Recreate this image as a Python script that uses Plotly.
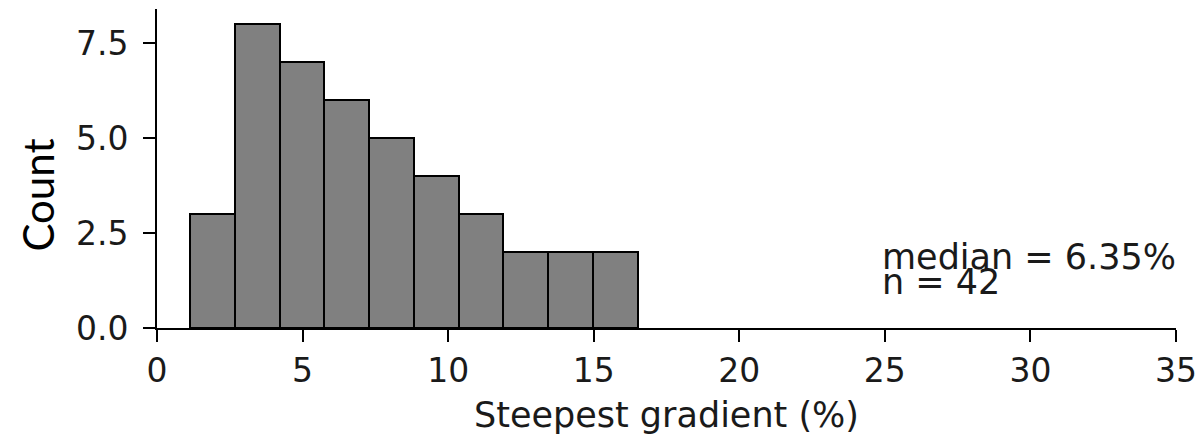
import plotly.graph_objects as go

# Histogram data
bin_edges = [1.13, 2.67, 4.21, 5.75, 7.29, 8.83, 10.36, 11.90, 13.44, 14.98, 16.52]
counts = [3, 8, 7, 6, 5, 4, 3, 2, 2, 2]
x_ticks = [0, 5, 10, 15, 20, 25, 30, 35]
y_ticks = [0, 2.5, 5.0, 7.5]
median_text = "median = 6.35%"
n_text = "n = 42"

centers = [(a + b) / 2 for a, b in zip(bin_edges[:-1], bin_edges[1:])]
widths = [b - a for a, b in zip(bin_edges[:-1], bin_edges[1:])]

fig = go.Figure()
fig.add_trace(go.Bar(
    x=centers, y=counts, width=widths,
    marker=dict(color="#808080", line=dict(color="black", width=2)),
    showlegend=False,
))

tick_font = dict(family="DejaVu Sans", size=33, color="#1a1a1a")
label_font = dict(family="DejaVu Sans", size=35, color="#1a1a1a")

fig.update_layout(
    width=1198, height=439,
    margin=dict(l=156.5, r=22, t=9, b=111),
    plot_bgcolor="white", paper_bgcolor="white",
    bargap=0,
    xaxis=dict(
        range=[0, 35], tickvals=x_ticks, showgrid=False, zeroline=False,
        showline=True, linecolor="black", linewidth=2, automargin=False,
        ticks="outside", ticklen=12, tickwidth=2, tickcolor="black",
        tickfont=tick_font, ticklabelstandoff=0,
        title=dict(text="Steepest gradient (%)", font=label_font, standoff=14),
    ),
    yaxis=dict(
        range=[0, 8.4], tickvals=y_ticks, tickformat=".1f", showgrid=False, zeroline=False,
        showline=True, linecolor="black", linewidth=2, automargin=False,
        ticks="outside", ticklen=12, tickwidth=2, tickcolor="black",
        tickfont=tick_font, ticklabelstandoff=8,
    ),
    annotations=[
        dict(text="Count", xref="paper", yref="paper", x=0, y=0.415,
             xanchor="center", yanchor="middle", xshift=-119, textangle=-90,
             showarrow=False, font=dict(family="Lato", size=42, color="black")),
        dict(text=median_text, xref="x", yref="y", x=25, y=1.54,
             xanchor="left", yanchor="bottom", xshift=-5, yshift=-9, showarrow=False,
             font=label_font),
        dict(text=n_text, xref="x", yref="y", x=25, y=0.86,
             xanchor="left", yanchor="bottom", xshift=-5, yshift=-9, showarrow=False,
             font=label_font),
    ],
)

fig.write_html(
    "out.html",
    config={"displayModeBar": False},
    post_script="document.body.style.margin='0';document.body.style.overflow='hidden';",
)
